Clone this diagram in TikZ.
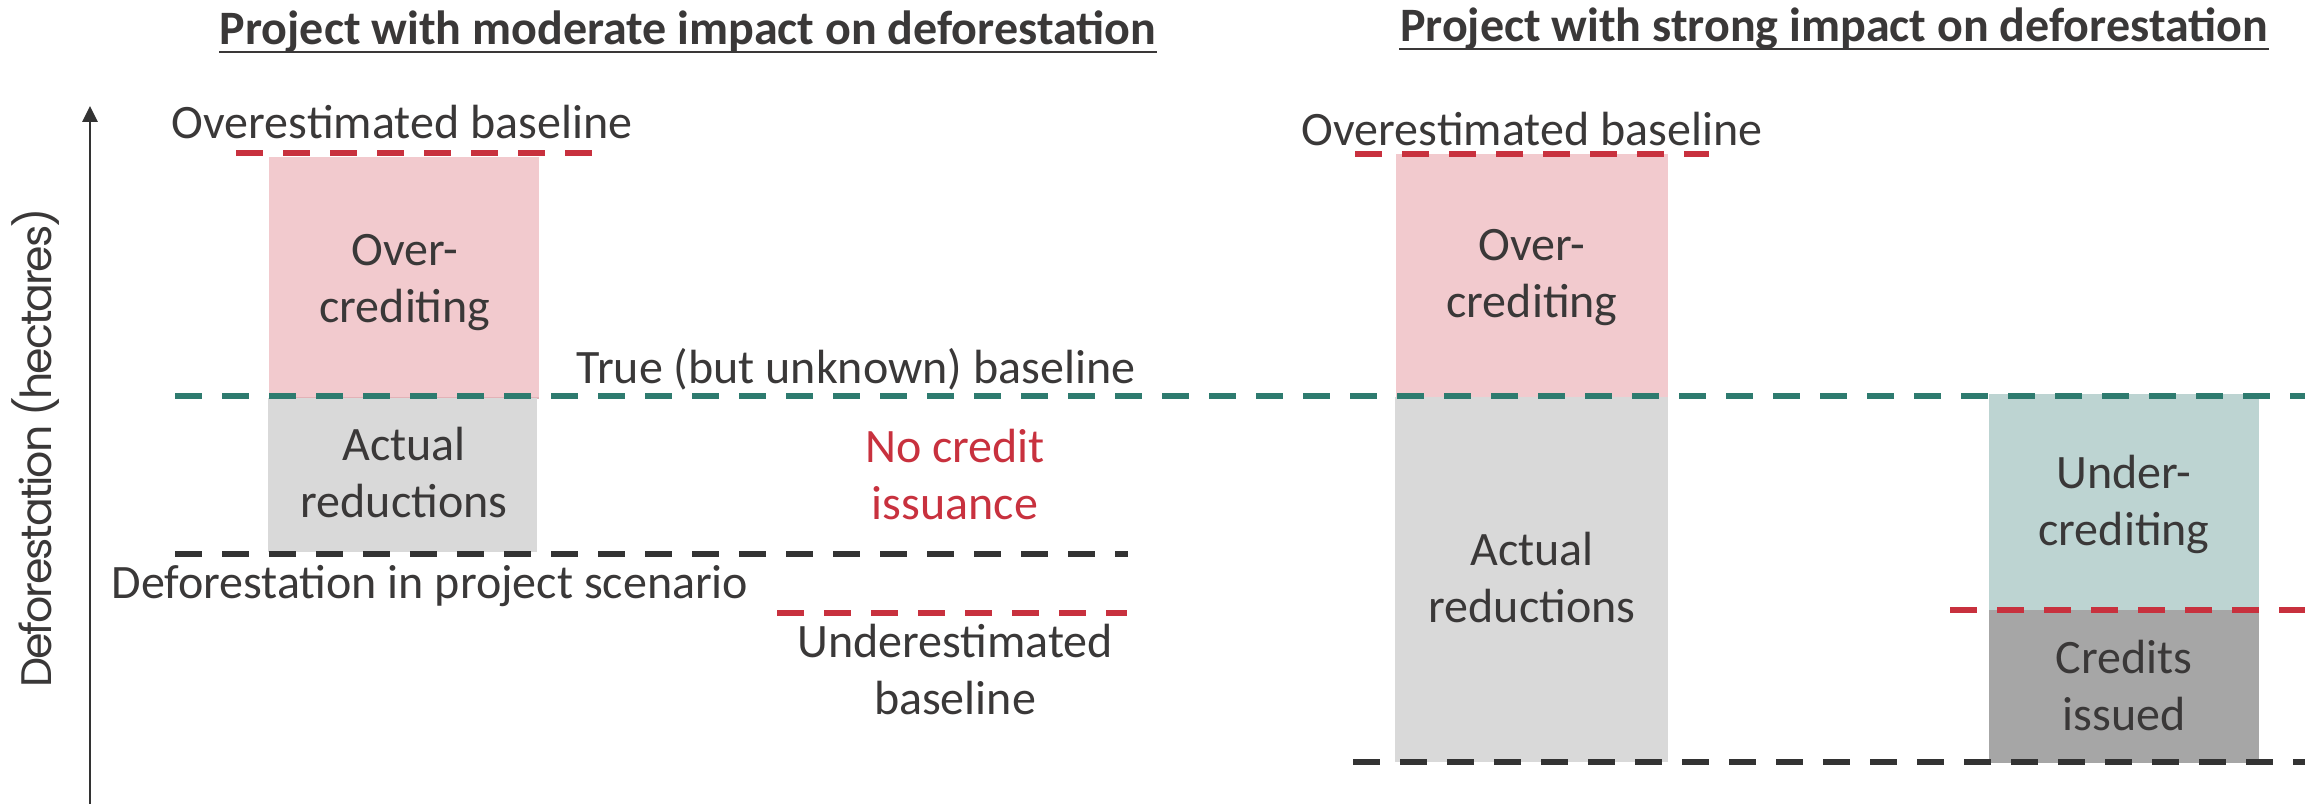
\documentclass[tikz,border=0pt]{standalone}
\usepackage{fontspec}
\setmainfont{Carlito}
\newfontfamily\axisfont[LetterSpace=-5]{Poppins}
\usetikzlibrary{arrows.meta}

\definecolor{txt}{HTML}{3A3838}
\definecolor{redc}{HTML}{C8313E}
\definecolor{tealc}{HTML}{2E7B6F}
\definecolor{pinkbox}{HTML}{F2CACE}
\definecolor{pinkedge}{HTML}{E2B2B7}
\definecolor{graybox}{HTML}{D9D9D9}
\definecolor{tealbox}{HTML}{BDD4D2}
\definecolor{darkbox}{HTML}{A6A6A6}
\definecolor{darkline}{HTML}{333333}

\newcommand{\twol}[2]{\begin{tabular}[t]{@{}c@{}}#1\\#2\end{tabular}}

\tikzset{
  lbl/.style={inner sep=0pt, anchor=base, text=txt, font=\fontsize{14.4}{17.25}\selectfont},
  ttl/.style={lbl, font=\fontsize{14.4}{17.25}\selectfont\bfseries},
  warn/.style={lbl, text=redc},
  ulbar/.style={draw=txt, line width=0.75pt},
  dashline/.style={line width=2pt, dash pattern=on 8.1pt off 6pt},
  redline/.style={dashline, draw=redc},
  tealline/.style={dashline, draw=tealc},
  darkdash/.style={dashline, draw=darkline},
  axisline/.style={draw=darkline, line width=0.7pt, -{Triangle[length=4.8pt,width=4.6pt]}},
}

\begin{document}
\begin{tikzpicture}[x=0.3pt, y=-0.3pt]
\useasboundingbox (0,0) rectangle (2305,804);

% bars
\fill[pinkbox] (269,157) rectangle (539,398);
\draw[pinkedge, line width=0.4pt] (269,398) -- (539,398);
\fill[graybox] (268,398) rectangle (537,552);
\fill[pinkbox] (1396,154) rectangle (1668,397);
\fill[graybox] (1395,397) rectangle (1668,762);
\fill[tealbox] (1989,394) rectangle (2259,610);
\fill[darkbox] (1989,610) rectangle (2259,763);

% vertical axis
\coordinate (axbot) at (90,804);
\coordinate (axtop) at (90,106);
\draw[axisline] (axbot) -- (axtop);
\node[rotate=90, inner sep=0pt, text=txt, font=\axisfont\fontsize{12.8}{14}\selectfont] (ylab) at (36,448) {Deforestation (hectares)};

% titles
\node[ttl] (titleL) at (688,45) {Project with moderate impact on deforestation};
\node[ttl] (titleR) at (1834,42) {Project with strong impact on deforestation};
\draw[ulbar] ([yshift=-2.1pt]titleL.base west) -- ([yshift=-2.1pt]titleL.base east);
\draw[ulbar] ([yshift=-2.1pt]titleR.base west) -- ([yshift=-2.1pt]titleR.base east);

% reference levels
\coordinate (trueA) at (175,396);
\coordinate (trueB) at (2305,396);
\coordinate (overLA) at (236,153);
\coordinate (overLB) at (592,153);
\coordinate (projLA) at (175,554);
\coordinate (projLB) at (1128,554);
\coordinate (underA) at (777,613);
\coordinate (underB) at (1127,613);
\coordinate (overRA) at (1355,154);
\coordinate (overRB) at (1709,154);
\coordinate (projRA) at (1353,762);
\coordinate (projRB) at (2305,762);
\coordinate (underRA) at (1950,610);
\coordinate (underRB) at (2305,610);

\draw[tealline] (trueA) -- (trueB);
\draw[redline] (overLA) -- (overLB);
\draw[darkdash] (projLA) -- (projLB);
\draw[redline] (underA) -- (underB);
\draw[redline] (overRA) -- (overRB);
\draw[darkdash] (projRA) -- (projRB);
\draw[redline] (underRA) -- (underRB);

% labels, moderate impact
\node[lbl] (overL) at (402,139) {Overestimated baseline};
\node[lbl] (trueL) at (856,383) {True (but unknown) baseline};
\node[lbl] (ocL) at (405,265) {\twol{Over-}{crediting}};
\node[lbl] (arL) at (404,460) {\twol{Actual}{reductions}};
\node[warn] (nocr) at (955,462) {\twol{No credit}{issuance}};
\node[lbl] (projL) at (430,598) {Deforestation in project scenario};
\node[lbl] (underL) at (955,657) {\twol{Underestimated}{baseline}};

% labels, strong impact
\node[lbl] (overR) at (1532,146) {Overestimated baseline};
\node[lbl] (ocR) at (1532,260) {\twol{Over-}{crediting}};
\node[lbl] (arR) at (1532,565) {\twol{Actual}{reductions}};
\node[lbl] (ucR) at (2124,488) {\twol{Under-}{crediting}};
\node[lbl] (ciR) at (2124,673) {\twol{Credits}{issued}};
\end{tikzpicture}
\end{document}
